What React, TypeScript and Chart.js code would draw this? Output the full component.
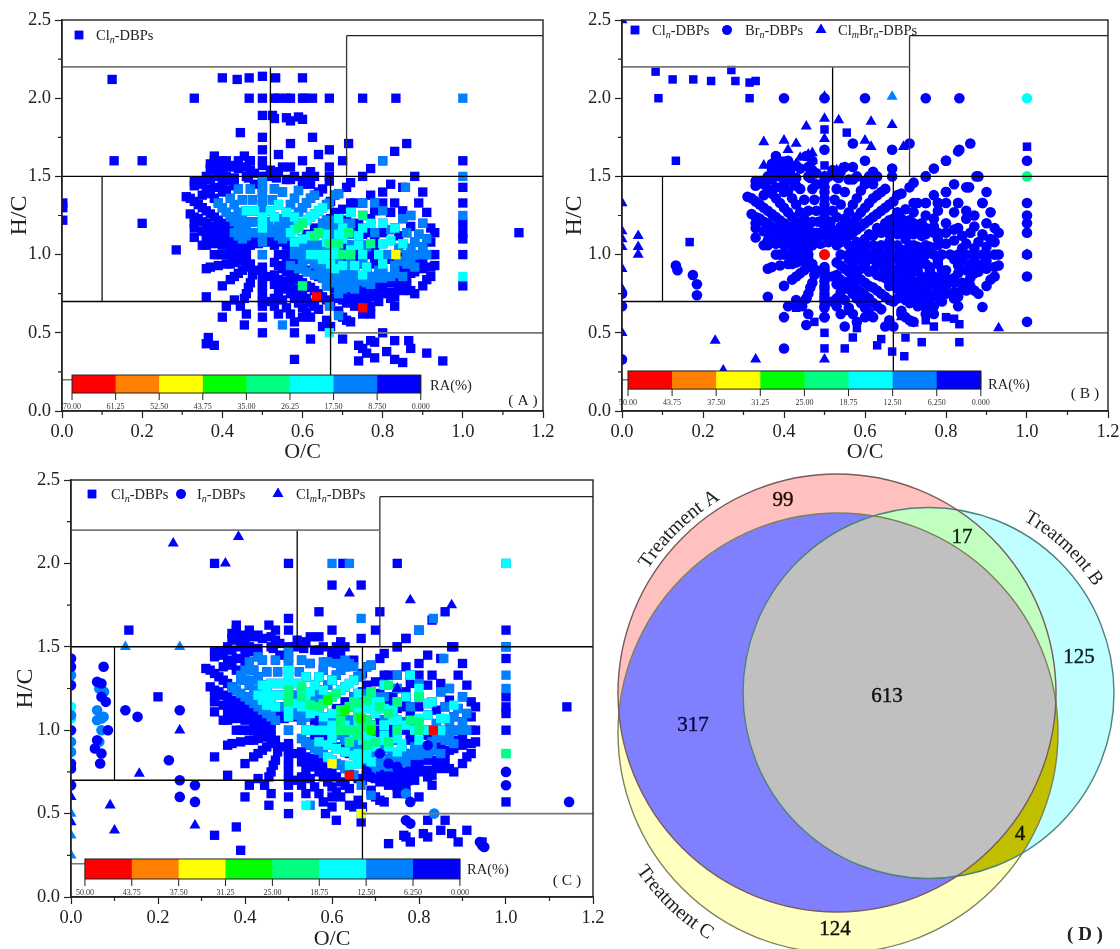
import React, { useEffect, useRef } from "react";
import { Chart, registerables } from "chart.js";
import { drawPoint } from "chart.js/helpers";

Chart.register(...registerables);

type Pt = [number, number];

const FONT = '"Liberation Serif", "Times New Roman", serif';
const BLUE = "#0000FF", MID = "#0080FF", CYAN = "#00FFFF", SPRING = "#00FF80", GREEN = "#00FF00", YELLOW = "#FFFF00", ORANGE = "#FF8000", RED = "#FF0000";

const xMinorTicks = [0.1, 0.3, 0.5, 0.7, 0.9, 1.1];
const yMinorTicks = [0.25, 0.75, 1.25, 1.75, 2.25];
const colorBarColors = [RED, ORANGE, YELLOW, GREEN, SPRING, CYAN, MID, BLUE];
const barLabelsA = ["70.00", "61.25", "52.50", "43.75", "35.00", "26.25", "17.50", "8.750", "0.000"];
const barLabelsBC = ["50.00", "43.75", "37.50", "31.25", "25.00", "18.75", "12.50", "6.250", "0.000"];

const regionLines: { pts: Pt[]; color: string; w: number }[] = [
  { pts: [[0, 2.2], [0.71, 2.2]], color: "#777", w: 1.7 },
  { pts: [[0.71, 1.5], [0.71, 2.4]], color: "#333", w: 1.3 },
  { pts: [[0.71, 2.4], [1.2, 2.4]], color: "#222", w: 1.3 },
  { pts: [[0, 1.5], [1.2, 1.5]], color: "#000", w: 1.4 },
  { pts: [[0.52, 1.5], [0.52, 2.2]], color: "#000", w: 1.3 },
  { pts: [[0.1, 0.7], [0.1, 1.5]], color: "#000", w: 1.2 },
  { pts: [[0, 0.7], [0.67, 0.7]], color: "#000", w: 1.4 },
  { pts: [[0.67, 0.2], [0.67, 1.5]], color: "#000", w: 1.3 },
  { pts: [[0.67, 0.5], [1.2, 0.5]], color: "#777", w: 1.7 },
  { pts: [[0, 0.2], [0.67, 0.2]], color: "#777", w: 1.5 },
];

// Shared molecular cloud
const cloudColumn: Pt[] = [[0.5,1],[0.5,1.08],[0.5,1.11],[0.5,1.14],[0.5,1.17],[0.5,1.2],[0.5,1.24],[0.5,1.28],[0.5,1.32],[0.5,1.36],[0.5,1.4],[0.5,1.43],[0.5,1.47],[0.5,1.5],[0.5,0.92],[0.5,0.9],[0.5,0.88],[0.5,0.86],[0.5,0.83],[0.5,0.8],[0.5,0.78],[0.5,0.75],[0.5,0.72],[0.5,0.7],[0.5,0.67],[0.5,0.6]];
const bandLeft2: Pt[] = [[0.47,1.06],[0.46,1.08],[0.45,1.1],[0.44,1.12],[0.43,1.14],[0.42,1.16],[0.41,1.18],[0.4,1.2],[0.39,1.22],[0.38,1.24],[0.37,1.26],[0.36,1.28],[0.35,1.3],[0.34,1.32],[0.33,1.34],[0.32,1.36],[0.31,1.37]];
const bandLeftLow: Pt[] = [
  [0.46,1.04],[0.45,1.06],[0.44,1.07],[0.43,1.09],[0.42,1.11],[0.41,1.12],[0.4,1.14],[0.39,1.15],[0.38,1.17],[0.37,1.18],[0.36,1.2],[0.35,1.21],[0.34,1.23],[0.33,1.24],[0.32,1.26],
  [0.44,1.05],[0.42,1.07],[0.4,1.1],[0.38,1.12],[0.36,1.14],[0.35,1.15],[0.33,1.17],[0.33,1.2],
  [0.44,1.03],[0.42,1.05],[0.4,1.06],[0.38,1.07],[0.36,1.09],[0.35,1.06],[0.36,1.06],[0.33,1.11],
  [0.38,1],[0.39,1],[0.4,1],[0.41,1],[0.42,1],[0.43,1],[0.44,1],[0.45,1],[0.46,1],
];
const fanLeftUp: Pt[] = [
  [0.47,1.09],[0.46,1.12],[0.45,1.15],[0.44,1.18],[0.43,1.21],[0.42,1.24],[0.41,1.27],[0.4,1.3],[0.39,1.33],[0.38,1.36],[0.37,1.39],[0.36,1.42],[0.35,1.45],[0.345,1.47],
  [0.48,1.09],[0.47,1.14],[0.46,1.18],[0.45,1.23],[0.44,1.27],[0.43,1.32],[0.42,1.36],[0.41,1.41],[0.4,1.45],[0.39,1.5],[0.38,1.54],[0.37,1.58],
  [0.49,1.07],[0.48,1.14],[0.47,1.21],[0.46,1.28],[0.45,1.35],[0.44,1.42],[0.43,1.49],[0.42,1.56],[0.41,1.6],
  [0.49,1.14],[0.485,1.21],[0.48,1.28],[0.475,1.35],[0.47,1.42],[0.465,1.49],[0.46,1.56],[0.455,1.63],
  [0.35,1.38],[0.33,1.47],[0.33,1.44],[0.37,1.48],[0.38,1.43],[0.36,1.5],[0.37,1.55],[0.4,1.55],[0.38,1.6],[0.39,1.57],[0.41,1.5],[0.43,1.44],[0.44,1.55],[0.46,1.5],[0.47,1.54],[0.48,1.45],[0.48,1.52],[0.42,1.47],[0.4,1.4],[0.38,1.63],[0.43,1.57],[0.47,1.6],
];
const bandLeftDown: Pt[] = [
  [0.46,0.97],[0.45,0.96],[0.44,0.96],[0.43,0.95],[0.42,0.94],[0.41,0.94],[0.39,0.93],[0.37,0.92],[0.36,0.91],
  [0.47,0.94],[0.46,0.92],[0.45,0.9],[0.44,0.88],[0.43,0.86],[0.42,0.84],[0.4,0.8],
  [0.48,0.9],[0.475,0.87],[0.47,0.82],[0.465,0.79],[0.46,0.75],[0.455,0.72],
  [0.36,0.73],[0.43,0.71],[0.41,0.67],[0.445,0.67],[0.4,0.6],[0.46,0.62],[0.455,0.55],
];
const bandRight2: Pt[] = [[0.53,1.06],[0.54,1.08],[0.55,1.1],[0.56,1.12],[0.57,1.14],[0.58,1.16],[0.59,1.18],[0.6,1.2],[0.61,1.22],[0.62,1.24],[0.63,1.26],[0.64,1.28],[0.65,1.3],[0.66,1.32],[0.67,1.34]];
const fanRightUp: Pt[] = [
  [0.53,1.09],[0.54,1.12],[0.55,1.15],[0.56,1.18],[0.57,1.21],[0.58,1.24],[0.59,1.27],[0.6,1.3],[0.61,1.33],[0.62,1.36],[0.63,1.38],[0.64,1.4],[0.65,1.42],
  [0.52,1.09],[0.53,1.14],[0.54,1.18],[0.55,1.23],[0.56,1.27],[0.57,1.32],[0.58,1.36],[0.59,1.41],[0.6,1.45],[0.61,1.5],
  [0.51,1.08],[0.52,1.16],[0.53,1.24],[0.54,1.32],[0.55,1.4],[0.56,1.48],[0.57,1.56],
  [0.51,1.14],[0.515,1.21],[0.52,1.28],[0.525,1.35],[0.53,1.42],[0.535,1.49],[0.54,1.53],
  [0.52,1.54],[0.55,1.56],[0.58,1.5],[0.6,1.47],[0.62,1.45],[0.63,1.5],[0.62,1.53],[0.57,1.48],[0.53,1.5],[0.51,1.5],
];
const bandRightDown: Pt[] = [[0.53,0.95],[0.54,0.93],[0.55,0.91],[0.56,0.89],[0.57,0.88],[0.58,0.86],[0.59,0.84],[0.6,0.82],[0.61,0.8],[0.62,0.79],[0.63,0.77],[0.64,0.75],[0.65,0.73],[0.66,0.71],[0.67,0.7]];
const cloudRightLobe: Pt[] = [
  [0.54,1],[0.56,1],[0.58,1],[0.6,1],[0.62,1],[0.64,1],[0.66,1],[0.68,1],[0.7,1],[0.72,1],[0.74,1],[0.75,1],[0.77,1],[0.79,1],[0.81,1],[0.83,1],[0.85,1],[0.87,1],[0.89,1],[0.9,1],[0.92,1],[0.93,1],
  [0.57,0.93],[0.59,0.91],[0.61,0.89],[0.63,0.87],[0.65,0.85],[0.67,0.83],[0.69,0.81],[0.71,0.79],[0.73,0.77],
  [0.56,0.97],[0.6,0.95],[0.64,0.93],[0.68,0.91],[0.72,0.89],[0.76,0.87],[0.8,0.85],
  [0.58,1.04],[0.62,1.06],[0.66,1.08],[0.7,1.1],[0.74,1.12],[0.78,1.14],[0.82,1.16],
  [0.56,1.06],[0.58,1.08],[0.6,1.1],[0.62,1.12],[0.64,1.14],[0.66,1.16],[0.68,1.18],[0.7,1.2],
  [0.68,1.38],[0.69,1.39],[0.71,1.43],[0.72,1.46],[0.75,1.5],[0.77,1.55],[0.8,1.6],[0.83,1.66],[0.86,1.71],
  [0.77,1.38],[0.8,1.4],[0.82,1.45],[0.85,1.43],[0.88,1.5],[0.9,1.4],[0.89,1.33],[0.83,1.33],[0.8,1.33],[0.78,1.33],[0.75,1.33],[0.73,1.33],[0.72,1.33],[0.85,1.28],[0.91,1.27],[0.82,1.27],[0.78,1.28],[0.87,1.25],[0.9,1.2],[0.8,1.2],[0.77,1.23],[0.85,1.23],[0.92,1.17],[0.93,1.14],[0.86,1.14],[0.83,1.17],[0.89,1.13],[0.91,1.1],[0.92,1.08],[0.88,1.08],[0.85,1.07],[0.82,1.09],[0.8,1.07],[0.75,1.25],[0.72,1.27],[0.69,1.23],[0.71,1.14],[0.74,1.2],[0.77,1.14],[0.72,1.2],[0.75,1.17],[0.67,1.23],[0.65,1.2],
  [0.7,1.29],[0.68,1.27],[0.73,1.05],[0.76,1.05],[0.78,1.1],[0.8,1.14],[0.84,1.12],[0.87,1.18],[0.77,1.18],
  [0.93,0.93],[0.92,0.92],[0.9,0.91],[0.88,0.89],[0.87,0.88],[0.92,0.86],[0.91,0.84],[0.9,0.8],[0.88,0.75],[0.87,0.77],[0.86,0.8],[0.84,0.82],[0.82,0.85],[0.85,0.77],[0.83,0.73],[0.82,0.72],[0.83,0.67],[0.8,0.8],[0.78,0.73],[0.77,0.67],[0.77,0.62],[0.75,0.62],[0.75,0.66],[0.73,0.67],[0.71,0.69],[0.7,0.71],[0.72,0.72],[0.74,0.73],[0.76,0.75],[0.78,0.78],[0.75,0.78],[0.72,0.76],[0.7,0.75],[0.68,0.72],[0.66,0.8],[0.69,0.85],[0.72,0.83],[0.75,0.83],[0.78,0.85],[0.8,0.9],[0.85,0.9],[0.83,0.93],[0.86,0.94],[0.89,0.94],[0.7,0.93],[0.73,0.93],[0.76,0.92],[0.66,0.96],[0.7,0.97],[0.74,0.96],[0.78,0.96],[0.82,0.97],[0.76,0.7],[0.79,0.7],[0.8,0.75],[0.74,0.69],[0.77,0.81],
];
const lobeFill: Pt[] = [
  [0.66,1.22],[0.68,1.22],[0.71,1.22],[0.63,1.17],[0.65,1.17],[0.67,1.17],[0.69,1.17],[0.71,1.17],[0.73,1.17],[0.61,1.13],[0.66,1.13],[0.68,1.13],[0.7,1.13],[0.72,1.13],[0.75,1.13],
  [0.6,1.06],[0.64,1.06],[0.68,1.06],[0.71,1.06],[0.72,1.06],[0.75,1.06],[0.78,1.06],[0.57,1.03],[0.6,1.03],[0.63,1.03],[0.66,1.03],[0.69,1.03],[0.72,1.03],[0.75,1.03],
  [0.58,0.97],[0.62,0.97],[0.64,0.97],[0.68,0.97],[0.72,0.97],[0.6,0.94],[0.63,0.94],[0.66,0.94],[0.69,0.94],[0.72,0.94],[0.75,0.94],[0.78,0.94],
  [0.62,0.9],[0.65,0.9],[0.67,0.9],[0.7,0.9],[0.73,0.9],[0.76,0.9],[0.79,0.9],[0.64,0.86],[0.66,0.86],[0.68,0.86],[0.71,0.86],[0.74,0.86],[0.77,0.86],
  [0.66,0.82],[0.68,0.82],[0.7,0.82],[0.73,0.82],[0.76,0.82],[0.79,0.82],[0.68,0.78],[0.7,0.78],[0.73,0.78],[0.69,0.74],[0.71,0.74],[0.77,0.74],
  [0.84,1.04],[0.87,1.04],[0.9,1.05],[0.84,0.96],[0.87,0.96],[0.9,0.96],[0.88,0.92],[0.83,0.88],[0.86,0.85],[0.82,0.82],[0.84,0.78],[0.8,0.83],[0.82,0.76],
];
const cloudLower: Pt[] = [
  [0.53,0.87],[0.54,0.84],[0.55,0.81],[0.56,0.78],[0.57,0.75],[0.58,0.72],[0.59,0.69],[0.6,0.66],[0.61,0.63],[0.62,0.6],
  [0.52,0.86],[0.53,0.81],[0.54,0.76],[0.55,0.71],[0.56,0.66],[0.57,0.62],
  [0.56,0.83],[0.57,0.81],[0.58,0.78],[0.59,0.76],[0.6,0.74],[0.61,0.72],[0.62,0.69],[0.63,0.67],[0.64,0.65],
  [0.53,0.72],[0.53,0.67],[0.52,0.7],[0.54,0.62],[0.58,0.57],[0.6,0.6],[0.65,0.54],[0.66,0.58],[0.67,0.54],[0.69,0.62],[0.7,0.6],[0.71,0.58],[0.72,0.57],[0.69,0.64],
];

const cloudAll: Pt[] = [...cloudColumn, ...bandLeft2, ...bandLeftLow, ...fanLeftUp, ...bandLeftDown, ...bandRight2, ...fanRightUp, ...bandRightDown, ...cloudRightLobe, ...lobeFill, ...cloudLower];

// Panel A
const blueA: Pt[] = [[0.125,2.12],[0.4,2.13],[0.437,2.12],[0.467,2.13],[0.5,2.14],[0.533,2.13],[0.6,2.13],[0.33,2],[0.467,2],[0.5,2],[0.53,2],[0.54,2],[0.56,2],[0.57,2],[0.6,2],[0.605,2],[0.625,2],[0.667,2],[0.75,2],[0.833,2],[0.5,1.89],[0.525,1.89],[0.53,1.87],[0.56,1.875],[0.57,1.855],[0.59,1.88],[0.6,1.865],[0.5,1.75],[0.445,1.78],[0.57,1.71],[0.625,1.75],[0.715,1.71],[0.667,1.67],[0.5,1.67],[0.5,1.6],[0.5,1.57],[0.44,1.6],[0.467,1.6],[0.4,1.6],[0.13,1.6],[0.2,1.6],[0.54,1.64],[0.64,1.64],[0.6,1.6],[0.7,1.6],[0.667,1.56],[0.667,1.5],[0.667,1.47],[0.2,1.2],[0.285,1.03],[0.002,1.33],[0.002,1.3],[0.002,1.22],[1,1.6],[1,1.43],[1,1.33],[1,1.2],[1,1.14],[1,1.1],[1,1],[1,0.8],[1.14,1.14],[0.58,0.5],[0.62,0.46],[0.8,0.5],[0.7,0.46],[0.74,0.42],[0.75,0.4],[0.76,0.37],[0.78,0.34],[0.74,0.32],[0.58,0.33],[0.77,0.45],[0.78,0.44],[0.83,0.45],[0.865,0.45],[0.87,0.4],[0.81,0.38],[0.83,0.33],[0.85,0.31],[0.91,0.37],[0.95,0.32],[0.36,0.43],[0.365,0.47],[0.38,0.42],[0.5,0.5]];
const midFans: Pt[] = [[0.5,1],[0.5,1.08],[0.5,1.11],[0.5,1.14],[0.5,1.28],[0.5,1.32],[0.5,1.36],[0.5,1.4],[0.5,1.43],[0.5,1.47],[0.45,1.1],[0.44,1.12],[0.43,1.14],[0.46,1.12],[0.45,1.15],[0.44,1.18],[0.43,1.21],[0.42,1.24],[0.41,1.27],[0.4,1.3],[0.39,1.33],[0.47,1.14],[0.46,1.18],[0.45,1.23],[0.44,1.27],[0.43,1.32],[0.42,1.36],[0.48,1.14],[0.47,1.21],[0.46,1.28],[0.45,1.35],[0.44,1.42],[0.49,1.14],[0.485,1.21],[0.48,1.28],[0.475,1.35],[0.47,1.42],[0.55,1.1],[0.56,1.12],[0.54,1.12],[0.55,1.15],[0.56,1.18],[0.57,1.21],[0.58,1.24],[0.59,1.27],[0.6,1.3],[0.61,1.33],[0.62,1.36],[0.63,1.38],[0.53,1.14],[0.54,1.18],[0.55,1.23],[0.56,1.27],[0.57,1.32],[0.58,1.36],[0.59,1.41],[0.52,1.16],[0.53,1.24],[0.54,1.32],[0.55,1.4],[0.51,1.14],[0.515,1.21],[0.52,1.28],[0.525,1.35],[0.53,1.42],[0.66,1.32],[0.667,1.33],[0.68,1.38],[0.69,1.39]];
const midLobe: Pt[] = [[0.58,1],[0.6,1],[0.8,1],[0.82,1],[0.86,1],[0.88,1],[0.9,1],[0.91,1],[0.6,0.95],[0.61,0.89],[0.63,0.87],[0.64,0.93],[0.65,0.85],[0.67,0.83],[0.69,0.81],[0.71,0.79],[0.68,0.91],[0.72,0.89],[0.76,0.87],[0.8,0.85],[0.66,0.8],[0.69,0.85],[0.72,0.83],[0.75,0.83],[0.78,0.85],[0.82,0.86],[0.85,0.86],[0.83,0.93],[0.86,0.94],[0.8,0.9],[0.77,0.81],[0.69,0.75],[0.57,0.93],[0.59,0.91],[0.58,1.04],[0.62,1.06],[0.66,1.08],[0.7,1.1],[0.74,1.12],[0.78,1.14],[0.82,1.16],[0.62,1.12],[0.64,1.14],[0.66,1.16],[0.68,1.18],[0.7,1.2],[0.75,1.33],[0.78,1.33],[0.8,1.28],[0.85,1.23],[0.87,1.25],[0.9,1.2],[0.86,1.14],[0.89,1.13],[0.91,1.1],[0.88,1.08],[0.82,1.09],[0.76,1.05],[0.72,1.2],[0.72,1.27],[0.65,1.2],[0.69,1.23],[0.75,1.25],[0.8,1.6],[0.857,1.43],[0.667,0.67],[0.69,0.61],[0.55,0.55],[1,2],[1,1.5],[1,1.25]];
const midLobeFill: Pt[] = [[0.66,1.22],[0.68,1.22],[0.65,1.17],[0.67,1.17],[0.69,1.17],[0.71,1.17],[0.66,1.13],[0.68,1.13],[0.72,1.13],[0.6,1.06],[0.64,1.06],[0.68,1.06],[0.72,1.06],[0.75,1.06],[0.6,1.03],[0.63,1.03],[0.66,1.03],[0.69,1.03],[0.72,1.03],[0.75,1.03],[0.62,0.97],[0.64,0.97],[0.68,0.97],[0.72,0.97],[0.63,0.94],[0.66,0.94],[0.69,0.94],[0.72,0.94],[0.75,0.94],[0.65,0.9],[0.67,0.9],[0.7,0.9],[0.73,0.9],[0.76,0.9],[0.79,0.9],[0.66,0.86],[0.68,0.86],[0.71,0.86],[0.74,0.86],[0.77,0.86],[0.68,0.82],[0.7,0.82],[0.73,0.82],[0.76,0.82],[0.7,0.78],[0.73,0.78],[0.84,1.04],[0.87,1.04],[0.9,1.05],[0.84,0.96],[0.87,0.96],[0.88,0.92],[0.83,0.88]];
const midA: Pt[] = [...midFans, ...midLobe, ...midLobeFill];
const cyanA: Pt[] = [[0.5,1.17],[0.5,1.2],[0.5,1.24],[0.48,1.28],[0.46,1.28],[0.53,1.24],[0.54,1.32],[0.52,1.28],[0.56,1.27],[0.58,1.24],[0.57,1.14],[0.58,1.16],[0.59,1.18],[0.6,1.2],[0.61,1.22],[0.62,1.24],[0.63,1.26],[0.64,1.28],[0.65,1.3],[0.58,1.08],[0.6,1.1],[0.62,1.12],[0.64,1.14],[0.66,1.08],[0.62,1],[0.64,1],[0.66,1],[0.68,1],[0.75,1],[0.79,1],[0.68,0.91],[0.7,0.93],[0.73,0.93],[0.76,0.92],[0.8,0.94],[0.75,0.87],[0.7,1.1],[0.72,1.27],[0.69,1.23],[0.71,1.14],[0.75,1.17],[0.74,1.12],[0.77,1.2],[0.8,1.2],[0.83,1.17],[0.8,1.07],[0.82,1.09],[0.85,1.07],[0.667,0.5],[1,0.86],[0.69,1.13],[0.67,0.94],[0.65,0.97],[0.7,1.17],[0.72,1.03],[0.68,1.06],[0.66,1.13],[0.74,1.06]];
const springA: Pt[] = [[0.6,0.8],[0.75,1.25],[0.6,1.2],[0.59,1.17],[0.63,1.12],[0.64,1.14],[0.667,1.07],[0.69,1.07],[0.7,1],[0.72,1],[0.77,1.07],[0.715,1.14]];
const yellowA: Pt[] = [[0.833,1]];
const redA: Pt[] = [[0.635,0.73],[0.75,0.66]];

// Panel B
const squaresB: Pt[] = [[0.083,2.17],[0.125,2.12],[0.176,2.12],[0.22,2.11],[0.27,2.18],[0.28,2.11],[0.315,2.1],[0.33,2.11],[0.09,2],[0.315,2],[0.133,1.6],[0.5,1.8],[0.555,1.78],[0.4,1.6],[0.5,1.57],[1,1.69],[0.167,1.08],[0.43,0.66],[0.475,0.57],[0.5,0.5],[0.5,0.4],[0.55,0.4],[0.57,0.47],[0.58,0.53],[0.56,0.64],[0.63,0.42],[0.64,0.46],[0.667,0.38],[0.697,0.35],[0.7,0.47],[0.74,0.44],[0.77,0.54],[0.75,0.58],[0.8,0.6],[0.82,0.59],[0.833,0.555],[0.833,0.44]];
const circlesB: Pt[] = [[0.4,2],[0.5,2],[0.6,2],[0.75,2],[0.833,2],[0.57,1.71],[0.71,1.71],[0.667,1.67],[0.833,1.67],[0.5,1.67],[0.6,1.6],[0.8,1.6],[1,1.6],[0.667,1.55],[0.75,1.5],[0.667,1.5],[0.875,1.5],[0.8,1.4],[0.857,1.43],[0.75,1.33],[0.78,1.33],[0.83,1.33],[0.89,1.33],[1,1.33],[1,1.25],[1,1.2],[1,1.14],[1,1],[1,0.86],[1,0.57],[0.133,0.93],[0.137,0.9],[0.175,0.87],[0.185,0.81],[0.185,0.74],[0.4,0.4],[0,0.75],[0,0.67],[0,0.33],[0.455,0.72],[0.89,0.665],[0.5,0.66],[0.5,0.6],[0.55,0.54]];
const trianglesB: Pt[] = [[0,2.5],[0.5,2.01],[0.5,1.87],[0.535,1.86],[0.455,1.82],[0.615,1.85],[0.667,1.83],[0.5,1.74],[0.35,1.72],[0.4,1.73],[0.43,1.71],[0.6,1.73],[0.615,1.69],[0.695,1.69],[0.41,1.67],[0.44,1.62],[0.46,1.64],[0.47,1.65],[0.35,1.57],[0.47,1.6],[0.43,1.58],[0.42,1.52],[0.38,1.54],[0.5,1.5],[0.53,1.54],[0.54,1.55],[0,1.33],[0,1.15],[0,1.1],[0,1.05],[0.04,1.12],[0.04,1.05],[0.04,1],[0,0.91],[0,0.78],[0,0.5],[0.23,0.45],[0.33,0.33],[0.25,0.26],[0.5,0.33],[0.93,0.53],[0.5,0.75],[0.72,0.56],[0.69,0.6],[0.86,1.14],[0.89,1.11],[1,1]];
const midTriB: Pt[] = [[0.667,2.01]];
const cyanCircleB: Pt[] = [[1,2]];
const springCircleB: Pt[] = [[1,1.5]];
const redCircleB: Pt[] = [[0.5,1]];

// Panel C
const blueC: Pt[] = [[0.33,2],[0.5,2],[0.625,2],[0.75,2],[0.6,1.87],[0.667,1.87],[0.57,1.71],[0.71,1.71],[0.5,1.67],[0.133,1.6],[0.5,1.6],[0.6,1.6],[0.7,1.6],[1,1.6],[0.77,1.55],[0.667,1.55],[0.75,1.5],[0.875,1.5],[0.2,1.2],[1,1.5],[1,1.43],[1,1.2],[1,1.14],[1,1.1],[1,1],[1,0.57],[1.14,1.14],[0.33,0.37],[0.38,0.42],[0.39,0.28],[0.33,0.84],[0.5,0.5],[0.585,0.5],[0.61,0.46],[0.6,0.54],[0.64,0.55],[0.667,0.45],[0.73,0.32],[0.765,0.37],[0.77,0.36],[0.78,0.33],[0.81,0.38],[0.82,0.36],[0.82,0.46],[0.85,0.4],[0.86,0.46],[0.875,0.38],[0.89,0.33],[0.91,0.4],[0.945,0.33],[0.8,0.6]];
const midExtraC: Pt[] = [[0.6,2],[0.64,2],[0.667,1.67],[0.833,1.67],[1,1.33],[0.47,1.06],[0.46,1.08],[0.42,1.16],[0.41,1.18],[0.4,1.2],[0.39,1.22],[0.38,1.24],[0.37,1.26],[0.53,0.95],[0.54,0.93],[0.55,0.91],[0.56,0.89],[0.57,0.88],[0.58,0.86],[0.61,0.8],[0.62,0.79],[0.63,0.77],[0.65,0.73],[0.52,1.09],[0.53,1.09],[0.53,1.06],[0.54,1.08],[0.43,1.44],[0.41,1.41],[0.4,1.36],[0.39,1.3],[0.42,1.3],[0.58,1.41],[0.61,1.4],[0.63,1.42],[0.64,1.4],[0.65,1.38]];
const cyanExtraC: Pt[] = [[0.5,1.08],[0.5,1.11],[0.5,1.14],[0.5,1.28],[0.5,1.32],[0.5,1.36],[0.48,1.21],[0.47,1.21],[0.46,1.18],[0.45,1.23],[0.44,1.27],[0.43,1.21],[0.45,1.15],[0.47,1.14],[0.44,1.18],[0.52,1.16],[0.53,1.14],[0.55,1.1],[0.56,1.12],[0.55,1.15],[0.54,1.18],[0.55,1.23],[0.57,1.32],[0.6,1.3],[0.6,1],[0.58,1],[0.56,1],[0.54,1],[0.59,0.84],[0.6,0.82],[0.57,0.93],[0.59,0.91],[0.61,0.89],[0.63,0.87],[0.65,0.85],[0.67,0.83],[0.64,0.79],[0.66,0.8],[0.69,0.81],[0.6,0.95],[0.64,0.93],[0.82,1],[0.85,1],[0.86,1.07],[0.88,1.15],[0.78,1.33],[0.8,1.25],[0.82,1.16],[0.75,0.95],[0.77,1.03],[0.54,0.55],[1,2],[0.66,0.86],[0.68,0.86],[0.71,0.86],[0.7,0.9],[0.73,0.9],[0.76,0.9],[0.72,0.94],[0.69,0.94],[0.72,0.97],[0.68,0.97],[0.72,1.03],[0.66,1.03],[0.63,1.03],[0.6,1.03],[0.68,1.13],[0.72,1.13],[0.75,1.06],[0.66,1.22],[0.71,1.17]];
const springC: Pt[] = [[0.5,1.2],[0.5,1.24],[0.5,1.17],[0.53,1.2],[0.53,1.26],[0.55,1.15],[0.57,1.14],[0.58,1.16],[0.6,1.2],[0.61,1.22],[0.62,1.12],[0.64,1.14],[0.66,1.16],[0.68,1.18],[0.62,1.06],[0.66,1.08],[0.67,1.02],[0.69,1.23],[0.71,1.14],[0.73,1.1],[0.75,1.17],[0.78,1.06],[0.8,1.05],[0.8,1.2],[0.73,1.27],[0.62,1],[0.64,1],[0.66,1],[0.75,1],[0.8,1],[0.64,0.93],[0.68,0.91],[0.7,0.93],[0.73,0.93],[1,0.86],[0.65,1.17],[0.68,1.06],[0.66,0.97],[0.69,1.03]];
const greenC: Pt[] = [[0.59,1.18],[0.63,1.12],[0.667,1.07],[0.69,1]];
const yellowC: Pt[] = [[0.6,0.8],[0.667,0.5]];
const redC: Pt[] = [[0.64,0.73],[0.833,1]];
const circlesC: Pt[] = [[0.075,1.38],[0.06,1.29],[0.07,1.28],[0.07,1.2],[0.08,1.17],[0.125,1.12],[0.153,1.08],[0.25,1.12],[0.085,1],[0.06,0.94],[0.055,0.89],[0.07,0.86],[0.067,0.8],[0.225,0.82],[0.25,0.7],[0.25,0.6],[0.285,0.67],[0.285,0.57],[1,0.75],[1,0.67],[1.145,0.57],[0.77,0.46],[0.78,0.44],[0.78,0.57],[0.82,0.91],[0.71,0.86],[0.73,0.8],[0.68,0.75],[0.69,0.72],[0.75,0.78],[0.73,0.72],[0.75,0.7],[0.78,0.7],[0.71,0.7],[0.94,0.33],[0.945,0.31],[0.95,0.3],[0,1.43],[0,1.38],[0,1.27],[0,1],[0,0.8],[0,0.77],[0,0.67]];
const midCirclesC: Pt[] = [[0.065,1.25],[0.076,1.23],[0.06,1.12],[0.06,1.06],[0.07,1.07],[0.075,1.08],[0.07,1],[0.065,0.93],[0.835,0.5],[0.77,0.62],[0,1.33],[0,1.09],[0,0.93],[0,0.87]];
const cyanCirclesC: Pt[] = [[0,1.14],[0,1.07]];
const trianglesC: Pt[] = [[0.235,2.12],[0.385,2.16],[0.355,2],[0.64,1.82],[0.78,1.78],[0.875,1.75],[0.25,1],[0.75,1.25],[0.157,0.74],[0.09,0.55],[0.1,0.4],[0.285,0.43],[0,0.6],[0,0.45]];
const midTrianglesC: Pt[] = [[0.125,1.5],[0.25,1.5],[0,0.5],[0,0.37],[0,0.25]];

// Panel D
const vennCircles = [
  { name: "A", x: 237, y: 228, r: 219, stroke: "#7a5a5a" },
  { name: "B", x: 328.5, y: 228, r: 185.5, stroke: "#4f8080" },
  { name: "C", x: 238, y: 268, r: 220, stroke: "#80805a" },
];
const vennCounts: { t: string; x: number; y: number; c: string }[] = [
  { t: "99", x: 183, y: 35, c: "#200808" },
  { t: "17", x: 362, y: 72, c: "#082008" },
  { t: "125", x: 479, y: 192, c: "#082020" },
  { t: "613", x: 287, y: 231, c: "#101010" },
  { t: "317", x: 93, y: 260, c: "#08084a" },
  { t: "4", x: 420, y: 369, c: "#101000" },
  { t: "124", x: 235, y: 464, c: "#101008" },
];

type Bin = { data: Pt[]; color: string; style: string; r: number; order: number };
type Seg = { t: string; sub?: boolean };
type LegendItem = { style: string; mx: number; tx: number; segs: Seg[] };
type Cfg = {
  left: number; top: number; width: number; height: number;
  plot: { l: number; t: number; r: number; b: number };
  bins: Bin[];
  bar: { x0: number; x1: number; yTop: number; yBot: number; labels: string[] };
  legend: LegendItem[];
  legendY: number;
  ra: { x: number; y: number };
  tag: { t: string; x: number; y: number };
  yTitlePad: number;
  xTitlePad: number;
};

const SQ = 6.6, CI = 5.3, TR = 6.4;

const panels: Cfg[] = [
  {
    left: 0, top: 0, width: 565, height: 465,
    plot: { l: 62, t: 20, r: 543, b: 411 },
    bins: [
      { data: cloudAll, color: BLUE, style: "rect", r: SQ, order: 9 },
      { data: blueA, color: BLUE, style: "rect", r: SQ, order: 8 },
      { data: midA, color: MID, style: "rect", r: SQ, order: 7 },
      { data: cyanA, color: CYAN, style: "rect", r: SQ, order: 6 },
      { data: springA, color: SPRING, style: "rect", r: SQ, order: 5 },
      { data: yellowA, color: YELLOW, style: "rect", r: SQ, order: 4 },
      { data: redA, color: RED, style: "rect", r: SQ, order: 3 },
    ],
    bar: { x0: 0.025, x1: 0.895, yTop: 0.23, yBot: 0.115, labels: barLabelsA },
    legend: [{ style: "rect", mx: 79, tx: 96, segs: [{ t: "Cl" }, { t: "n", sub: true }, { t: "-DBPs" }] }],
    legendY: 40,
    ra: { x: 430, y: 386 },
    tag: { t: "( A )", x: 523, y: 401 },
    yTitlePad: 5, xTitlePad: 0,
  },
  {
    left: 560, top: 0, width: 560, height: 465,
    plot: { l: 62, t: 20, r: 548, b: 411 },
    bins: [
      { data: cloudAll, color: BLUE, style: "circle", r: CI, order: 9 },
      { data: squaresB, color: BLUE, style: "rect", r: SQ - 0.6, order: 8 },
      { data: circlesB, color: BLUE, style: "circle", r: CI, order: 7 },
      { data: trianglesB, color: BLUE, style: "triangle", r: TR, order: 6 },
      { data: midTriB, color: MID, style: "triangle", r: TR, order: 5 },
      { data: cyanCircleB, color: CYAN, style: "circle", r: CI, order: 4 },
      { data: springCircleB, color: SPRING, style: "circle", r: CI, order: 3 },
      { data: redCircleB, color: RED, style: "circle", r: CI, order: 2 },
    ],
    bar: { x0: 0.0148, x1: 0.886, yTop: 0.256, yBot: 0.14, labels: barLabelsBC },
    legend: [
      { style: "rect", mx: 75, tx: 92, segs: [{ t: "Cl" }, { t: "n", sub: true }, { t: "-DBPs" }] },
      { style: "circle", mx: 167, tx: 185, segs: [{ t: "Br" }, { t: "n", sub: true }, { t: "-DBPs" }] },
      { style: "triangle", mx: 261, tx: 278, segs: [{ t: "Cl" }, { t: "m", sub: true }, { t: "Br" }, { t: "n", sub: true }, { t: "-DBPs" }] },
    ],
    legendY: 35,
    ra: { x: 428, y: 385 },
    tag: { t: "( B )", x: 525, y: 394 },
    yTitlePad: 0, xTitlePad: 0,
  },
  {
    left: 0, top: 465, width: 610, height: 484,
    plot: { l: 71, t: 15, r: 593, b: 432 },
    bins: [
      { data: cloudAll, color: BLUE, style: "rect", r: SQ, order: 13 },
      { data: blueC, color: BLUE, style: "rect", r: SQ, order: 12 },
      { data: midA, color: MID, style: "rect", r: SQ, order: 11 },
      { data: midExtraC, color: MID, style: "rect", r: SQ, order: 10 },
      { data: cyanA, color: CYAN, style: "rect", r: SQ, order: 9 },
      { data: cyanExtraC, color: CYAN, style: "rect", r: SQ, order: 8 },
      { data: springC, color: SPRING, style: "rect", r: SQ, order: 7 },
      { data: greenC, color: GREEN, style: "rect", r: SQ, order: 6 },
      { data: yellowC, color: YELLOW, style: "rect", r: SQ, order: 5 },
      { data: redC, color: RED, style: "rect", r: SQ, order: 4 },
      { data: circlesC, color: BLUE, style: "circle", r: CI, order: 3 },
      { data: midCirclesC, color: MID, style: "circle", r: CI, order: 3 },
      { data: cyanCirclesC, color: CYAN, style: "circle", r: CI, order: 3 },
      { data: trianglesC, color: BLUE, style: "triangle", r: TR, order: 2 },
      { data: midTrianglesC, color: MID, style: "triangle", r: TR, order: 2 },
    ],
    bar: { x0: 0.032, x1: 0.894, yTop: 0.228, yBot: 0.108, labels: barLabelsBC },
    legend: [
      { style: "rect", mx: 92, tx: 111, segs: [{ t: "Cl" }, { t: "n", sub: true }, { t: "-DBPs" }] },
      { style: "circle", mx: 181, tx: 197, segs: [{ t: "I" }, { t: "n", sub: true }, { t: "-DBPs" }] },
      { style: "triangle", mx: 278, tx: 296, segs: [{ t: "Cl" }, { t: "m", sub: true }, { t: "I" }, { t: "n", sub: true }, { t: "-DBPs" }] },
    ],
    legendY: 34,
    ra: { x: 467, y: 405 },
    tag: { t: "( C )", x: 567, y: 416 },
    yTitlePad: 11, xTitlePad: -3,
  },
];

function panelPlugin(cfg: Cfg) {
  return {
    id: "panelExtras",
    afterDraw(chart: any) {
      const { ctx, chartArea: a, scales } = chart;
      const X = scales.x, Y = scales.y;
      ctx.save();
      ctx.strokeStyle = "#222";
      ctx.lineWidth = 1.4;
      ctx.strokeRect(a.left, a.top, a.right - a.left, a.bottom - a.top);
      ctx.lineWidth = 1.2;
      ctx.beginPath();
      for (const v of xMinorTicks) { const p = X.getPixelForValue(v); ctx.moveTo(p, a.bottom); ctx.lineTo(p, a.bottom + 4); }
      for (const v of yMinorTicks) { const p = Y.getPixelForValue(v); ctx.moveTo(a.left, p); ctx.lineTo(a.left - 4, p); }
      ctx.stroke();
      const b = cfg.bar;
      const bx0 = X.getPixelForValue(b.x0), bx1 = X.getPixelForValue(b.x1);
      const by0 = Y.getPixelForValue(b.yTop), by1 = Y.getPixelForValue(b.yBot);
      const w = (bx1 - bx0) / colorBarColors.length;
      colorBarColors.forEach((c, i) => { ctx.fillStyle = c; ctx.fillRect(bx0 + i * w, by0, w + 0.5, by1 - by0); });
      ctx.strokeStyle = "#222";
      ctx.lineWidth = 1;
      ctx.strokeRect(bx0, by0, bx1 - bx0, by1 - by0);
      ctx.fillStyle = "#333";
      ctx.font = `8px ${FONT}`;
      ctx.textAlign = "center";
      ctx.textBaseline = "middle";
      b.labels.forEach((l, i) => {
        const x = bx0 + i * w;
        ctx.beginPath(); ctx.moveTo(x, by1); ctx.lineTo(x, by1 + 7); ctx.stroke();
        ctx.fillText(l, x, by1 + 14);
      });
      ctx.fillStyle = "#222";
      ctx.textAlign = "left";
      ctx.font = `14.5px ${FONT}`;
      ctx.fillText("RA(%)", cfg.ra.x, cfg.ra.y);
      ctx.textAlign = "center";
      ctx.font = `15.5px ${FONT}`;
      ctx.fillText(cfg.tag.t, cfg.tag.x, cfg.tag.y);
      ctx.textAlign = "left";
      ctx.textBaseline = "alphabetic";
      for (const item of cfg.legend) {
        ctx.fillStyle = BLUE;
        drawPoint(ctx, { pointStyle: item.style, radius: item.style === "rect" ? 6 : item.style === "circle" ? 4.8 : 6.2, rotation: 0, borderWidth: 0 } as any, item.mx, cfg.legendY - 5);
        ctx.fill();
        let tx = item.tx;
        ctx.fillStyle = "#222";
        for (const s of item.segs) {
          ctx.font = s.sub ? `italic 10px ${FONT}` : `14.5px ${FONT}`;
          ctx.fillText(s.t, tx, s.sub ? cfg.legendY + 3 : cfg.legendY);
          tx += ctx.measureText(s.t).width;
        }
      }
      ctx.restore();
    },
  };
}

function Panel({ cfg }: { cfg: Cfg }) {
  const ref = useRef<HTMLCanvasElement>(null);
  useEffect(() => {
    const { l, t, r, b } = cfg.plot;
    const yBox = l, xBox = cfg.height - b;
    const lineSets = regionLines.map((ln) => ({
      type: "line" as const,
      data: ln.pts.map(([x, y]) => ({ x, y })),
      borderColor: ln.color,
      borderWidth: ln.w,
      pointRadius: 0,
      fill: false,
      order: 0,
      clip: false,
    }));
    const binSets = cfg.bins.map((bin) => ({
      type: "scatter" as const,
      data: bin.data.map(([x, y]) => ({ x, y })),
      backgroundColor: bin.color,
      borderColor: bin.color,
      pointStyle: bin.style,
      pointRadius: bin.r,
      pointBorderWidth: 0,
      order: bin.order,
    }));
    const zero = (s: any) => { s.paddingLeft = 0; s.paddingRight = 0; s.paddingTop = 0; s.paddingBottom = 0; };
    const chart = new Chart(ref.current!, {
      type: "scatter",
      data: { datasets: [...lineSets, ...binSets] as any },
      options: {
        animation: false,
        responsive: false,
        layout: { autoPadding: false, padding: { left: 0, top: t, right: cfg.width - r, bottom: 0 } },
        plugins: { legend: { display: false }, tooltip: { enabled: false } },
        scales: {
          x: {
            type: "linear", min: 0, max: 1.2,
            grid: { drawOnChartArea: false, tickLength: 7, tickColor: "#222", tickWidth: 1.2 },
            border: { color: "#222", width: 1.4 },
            ticks: { stepSize: 0.2, maxRotation: 0, autoSkip: false, padding: 3, color: "#222", font: { family: FONT, size: 18.5 }, callback: (v: any) => Number(v).toFixed(1) },
            title: { display: true, text: "O/C", color: "#222", font: { family: FONT, size: 22 }, padding: { top: 0, bottom: cfg.xTitlePad } },
            afterFit: (s: any) => { zero(s); s.height = xBox; },
          },
          y: {
            type: "linear", min: 0, max: 2.5,
            grid: { drawOnChartArea: false, tickLength: 7, tickColor: "#222", tickWidth: 1.2 },
            border: { color: "#222", width: 1.4 },
            ticks: { stepSize: 0.5, padding: 4, color: "#222", font: { family: FONT, size: 18.5 }, callback: (v: any) => Number(v).toFixed(1) },
            title: { display: true, text: "H/C", color: "#222", font: { family: FONT, size: 24 }, padding: { top: cfg.yTitlePad, bottom: 0 } },
            afterFit: (s: any) => { zero(s); s.width = yBox; },
          },
        },
      } as any,
      plugins: [panelPlugin(cfg)],
    });
    return () => chart.destroy();
  }, [cfg]);
  return <canvas ref={ref} width={cfg.width} height={cfg.height} style={{ position: "absolute", left: cfg.left, top: cfg.top, width: cfg.width, height: cfg.height }} />;
}

const vennRegions: { sets: string[]; color: string }[] = [
  { sets: ["A"], color: "#FFC0C0" },
  { sets: ["B"], color: "#C0FFFF" },
  { sets: ["C"], color: "#FFFFC0" },
  { sets: ["A", "B"], color: "#C0FFC0" },
  { sets: ["B", "C"], color: "#C0C000" },
  { sets: ["A", "C"], color: "#8080FF" },
  { sets: ["A", "B", "C"], color: "#C0C0C0" },
];
const vennArcLabels = [
  { t: "Treatment A", circle: "A", radius: 226, mid: -134, dir: 1, size: 20 },
  { t: "Treatment B", circle: "B", radius: 197, mid: -47, dir: 1, size: 19.5 },
  { t: "Treatment C", circle: "C", radius: 244, mid: 134, dir: -1, size: 20 },
];

const vennPlugin = {
  id: "vennExtras",
  beforeDatasetsDraw(chart: any) {
    const { ctx, scales } = chart;
    const pos = (name: string) => {
      const c = vennCircles.find((v) => v.name === name)!;
      return { x: scales.x.getPixelForValue(c.x), y: scales.y.getPixelForValue(c.y), r: c.r };
    };
    for (const reg of vennRegions) {
      ctx.save();
      reg.sets.slice(0, -1).forEach((n) => {
        const p = pos(n);
        ctx.beginPath(); ctx.arc(p.x, p.y, p.r, 0, Math.PI * 2); ctx.clip();
      });
      const last = pos(reg.sets[reg.sets.length - 1]);
      ctx.beginPath(); ctx.arc(last.x, last.y, last.r, 0, Math.PI * 2);
      ctx.fillStyle = reg.color;
      ctx.fill();
      ctx.restore();
    }
  },
  afterDraw(chart: any) {
    const { ctx, scales } = chart;
    ctx.save();
    ctx.textAlign = "center";
    ctx.textBaseline = "middle";
    ctx.font = `21px ${FONT}`;
    ctx.lineWidth = 0.4;
    for (const c of vennCounts) {
      ctx.fillStyle = c.c;
      ctx.strokeStyle = c.c;
      const px = scales.x.getPixelForValue(c.x), py = scales.y.getPixelForValue(c.y);
      ctx.fillText(c.t, px, py);
      ctx.strokeText(c.t, px, py);
    }
    ctx.fillStyle = "#222";
    ctx.font = `bold 19px ${FONT}`;
    ctx.fillText("( D )", scales.x.getPixelForValue(485), scales.y.getPixelForValue(470));
    ctx.textBaseline = "alphabetic";
    for (const l of vennArcLabels) {
      const c = vennCircles.find((v) => v.name === l.circle)!;
      const cx = scales.x.getPixelForValue(c.x), cy = scales.y.getPixelForValue(c.y);
      ctx.font = `${l.size}px ${FONT}`;
      ctx.fillStyle = "#222";
      const total = ctx.measureText(l.t).width;
      let ang = (l.mid * Math.PI) / 180 - (l.dir * total) / 2 / l.radius;
      for (const ch of l.t) {
        const w = ctx.measureText(ch).width;
        const step = w / l.radius;
        const am = ang + (l.dir * step) / 2;
        ctx.save();
        ctx.translate(cx + l.radius * Math.cos(am), cy + l.radius * Math.sin(am));
        ctx.rotate(am + (l.dir * Math.PI) / 2);
        ctx.fillText(ch, 0, 0);
        ctx.restore();
        ang += l.dir * step;
      }
    }
    ctx.restore();
  },
};

function Venn() {
  const ref = useRef<HTMLCanvasElement>(null);
  useEffect(() => {
    const chart = new Chart(ref.current!, {
      type: "bubble",
      data: {
        datasets: vennCircles.map((c) => ({
          data: [{ x: c.x, y: c.y, r: c.r }],
          backgroundColor: "rgba(0,0,0,0)",
          borderColor: c.stroke,
          borderWidth: 1.4,
          clip: false,
        })),
      },
      options: {
        animation: false,
        responsive: false,
        layout: { autoPadding: false, padding: 0 },
        plugins: { legend: { display: false }, tooltip: { enabled: false } },
        scales: {
          x: { type: "linear", min: 0, max: 520, display: false },
          y: { type: "linear", min: 0, max: 484, reverse: true, display: false },
        },
      } as any,
      plugins: [vennPlugin],
    });
    return () => chart.destroy();
  }, []);
  return <canvas ref={ref} width={520} height={484} style={{ position: "absolute", left: 600, top: 465, width: 520, height: 484 }} />;
}

export default function App() {
  return (
    <div style={{ position: "fixed", left: 0, top: 0, width: 1120, height: 949, overflow: "hidden", background: "#fff" }}>
      {panels.map((p, i) => <Panel key={i} cfg={p} />)}
      <Venn />
    </div>
  );
}
